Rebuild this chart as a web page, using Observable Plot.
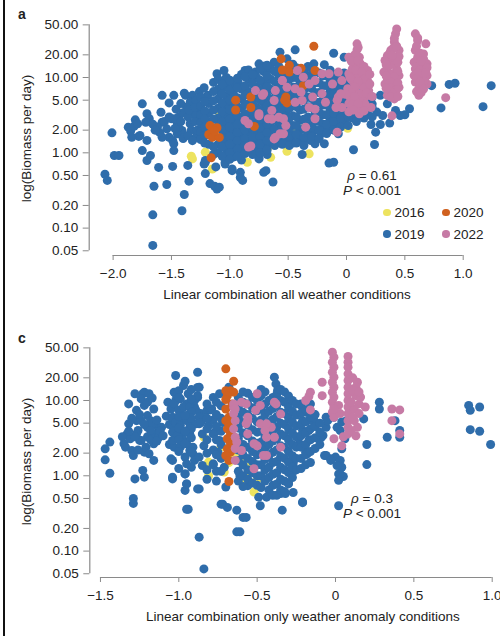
<!DOCTYPE html>
<html><head><meta charset="utf-8">
<script src="https://cdn.jsdelivr.net/npm/d3@7"></script>
<script src="https://cdn.jsdelivr.net/npm/@observablehq/plot@0.6"></script>
<style>
body{margin:0;background:#fff;font-family:"Liberation Sans",Arial,sans-serif;color:#222;}
#wrap{position:relative;width:500px;height:636px;overflow:hidden;background:#fff;}
.panel{position:absolute;left:0;width:500px;height:318px;}
.edge{position:absolute;left:3.3px;top:0;width:1.3px;height:636px;background:#111;}
.lab{position:absolute;font-weight:bold;font-size:14px;line-height:15px;}
.t{position:absolute;font-size:13.5px;line-height:15px;white-space:nowrap;text-align:center;}
.yt{position:absolute;font-size:13.5px;line-height:15px;width:200px;text-align:center;transform:rotate(-90deg);white-space:nowrap;}
.leg{position:absolute;font-size:13.5px;line-height:15px;white-space:nowrap;}
.leg i{display:inline-block;width:7.5px;height:7.5px;border-radius:50%;margin-right:4px;vertical-align:1px;}
</style></head>
<body><div id="wrap"><div class="edge"></div></div>
<script>
const years = ["2016","2019","2020","2022"];
const colors = ["#ede35f","#2f6dab","#d0611f","#c67aa5"];
const xTicksA = [-2,-1.5,-1,-0.5,0,0.5,1];
const xTicksC = [-1.5,-1,-0.5,0,0.5,1];
const yTicks = [0.05,0.1,0.2,0.5,1,2,5,10,20,50];

// Panel a : [linear combination, biomass per day]
const a2016 = [[-1.33,0.9],[-1.32,0.83],[-1.21,1.02],[-1.15,0.61],[-1.09,3.3],[-0.91,1.98],[-0.85,0.75],[-0.74,1.46],[-0.67,1.19],[-0.65,0.87],[-0.51,1.05],[-0.47,1.98],[-0.41,1.53],[-0.32,0.97],[-0.5,2.3],[-0.37,2.1],[0.01,2.12],[-0.9,1.6]];
const a2019 = [
[-2.07,0.52],[-2.05,0.43],[-2.01,1.84],[-1.99,0.92],[-1.95,0.92],
[-1.87,2.19],[-1.85,1.95],[-1.82,2.25],[-1.84,1.61],[-1.81,2.74],[-1.79,2.43],[-1.78,1.65],
[-1.75,4.47],[-1.71,3.3],[-1.69,2.83],[-1.72,2.55],[-1.71,1.46],[-1.75,1.07],[-1.77,1.7],
[-1.68,0.92],[-1.71,0.79],[-1.61,0.64],[-1.65,0.36],[-1.66,0.15],[-1.66,0.059],
[-1.58,5.8],[-1.48,5.8],[-1.59,3.46],[-1.58,2.55],[-1.54,2.08],[-1.5,2.83],[-1.44,2.97],[-1.45,2.43],[-1.41,1.98],
[-1.52,1.61],[-1.49,1.46],[-1.48,1.32],[-1.58,1.61],[-1.48,1.07],[-1.45,1.79],[-1.44,2.19],[-1.47,2.83],
[-1.38,5.8],[-1.32,5.8],[-1.34,4.7],[-1.29,4.95],[-1.27,3.65],[-1.28,2.69],[-1.24,2.43],[-1.21,1.98],
[-1.39,6.2],[-1.37,4.04],[-1.31,3.3],[-1.34,2.43],[-1.29,1.61],[-1.19,5.8],
[-1.36,0.68],[-1.35,0.42],[-1.39,0.28],[-1.41,0.17],[-1.49,0.66],[-1.54,0.38],
[-1.21,0.53],[-1.17,0.39],[-1.11,0.33],[-1.13,0.36],[-1.21,0.75],[-1.22,0.71],[-1.21,0.79],[-1.12,0.65],
[-1.14,8.6],[-1.11,11.2],[-1.05,12.4],[-1.04,8.6],[-1.08,6.4],
[-1.04,0.71],[-0.98,0.58],[-0.91,0.55],[-0.89,0.43],[-0.97,0.88],
[-0.93,8.8],[-0.87,12.4],[-0.84,12.6],[-0.78,11.8],[-0.75,15.2],[-0.7,14.2],
[-0.71,0.55],[-0.63,0.41],[-0.68,0.95],[-0.75,0.86],[-0.75,0.83],[-0.69,0.58],[-0.98,0.61],[-0.91,0.47],[-1.04,0.75],[-1.09,0.35],
[-0.57,21.7],[-0.44,23.3],[-0.51,17.7],[-0.62,16],
[-0.38,0.95],[-0.28,15.2],[-0.19,14.8],[-0.11,21],[-0.02,18.6],
[-0.15,0.73],[-0.11,0.75],[0.06,1.1],[0.24,1.29],[0.25,1.88],
[0.21,2.38],[0.29,2.38],[0.37,2.48],[0.31,3.13],[0.26,3.47],[0.22,4.47],[0.29,5.8],[0.36,6.1],[0.35,4.47],[0.42,3.65],[0.46,3.13],[0.54,3.85],[0.5,3.2],[0.73,7.8],[0.81,3.95],[0.88,8.1],[0.93,8.4],[1.17,4.1],[1.24,7.8],
[-0.48,1.53],[-0.37,1.46],[-0.27,1.32],[-0.29,1.61],[-0.19,1.98],[-0.07,1.79],[-0.31,1.46],[-0.22,1.79],[-0.05,2.3],[-0.19,1.32],
[-1.62,2.2],[-1.56,2.6],[-1.52,3.0],[-1.47,2.1],[-1.42,2.6],[-1.4,3.4],[-1.36,3.0],[-1.33,2.0],[-1.3,2.6],[-1.4,1.55],[-1.36,1.7],[-1.32,1.45],[-1.28,2.0],[-1.6,1.85],[-1.66,2.4],[-1.64,2.0],[-1.35,3.7],[-1.42,4.5],[-1.3,4.0],[-1.46,3.8],[-1.52,4.6],[-1.26,6.5],[-1.22,7.3],
// dense core
[-1.25,5.5],[-1.25,4.2],[-1.25,3.2],[-1.25,2.5],[-1.25,1.9],[-1.25,1.5],
[-1.18,4.5],[-1.18,3.4],[-1.18,2.6],[-1.18,1.3],
[-1.1,9.5],[-1.1,7.0],[-1.1,5.2],[-1.1,3.9],[-1.1,2.9],[-1.1,2.3],[-1.1,1.3],[-1.1,1.0],
[-1.03,10],[-1.03,7.5],[-1.03,5.6],[-1.03,4.2],[-1.03,3.1],[-1.03,2.4],[-1.03,1.8],[-1.03,1.4],[-1.03,1.1],[-1.03,0.9],
[-0.97,8.5],[-0.97,6.2],[-0.97,4.6],[-0.97,3.4],[-0.97,2.6],[-0.97,2.0],[-0.97,1.55],[-0.97,1.2],[-0.97,0.95],
[-0.9,11],[-0.9,7.0],[-0.9,5.2],[-0.9,3.9],[-0.9,2.9],[-0.9,2.2],[-0.9,1.7],[-0.9,1.3],[-0.9,1.05],[-0.9,0.8],
[-0.84,9.5],[-0.84,6.5],[-0.84,4.4],[-0.84,3.3],[-0.84,2.5],[-0.84,1.9],[-0.84,1.45],[-0.84,1.15],
[-0.77,10],[-0.77,7.5],[-0.77,5.5],[-0.77,4.0],[-0.77,3.0],[-0.77,2.3],[-0.77,1.75],[-0.77,1.35],[-0.77,1.05],
[-0.71,12],[-0.71,8.5],[-0.71,6.2],[-0.71,4.6],[-0.71,3.4],[-0.71,2.6],[-0.71,2.0],[-0.71,1.55],[-0.71,1.2],
[-0.65,13],[-0.65,9.5],[-0.65,7.0],[-0.65,5.2],[-0.65,3.9],[-0.65,2.9],[-0.65,2.2],[-0.65,1.7],[-0.65,1.35],
[-0.58,14],[-0.58,10.5],[-0.58,7.8],[-0.58,5.8],[-0.58,4.3],[-0.58,3.2],[-0.58,2.4],[-0.58,1.85],[-0.58,1.45],
[-0.52,11.5],[-0.52,8.5],[-0.52,6.3],[-0.52,4.7],[-0.52,3.5],[-0.52,2.6],[-0.52,2.0],[-0.52,1.55],
[-0.46,15],[-0.46,10],[-0.46,7.5],[-0.46,5.6],[-0.46,4.2],[-0.46,3.1],[-0.46,2.3],[-0.46,1.75],[-0.46,1.35],
[-0.4,12],[-0.4,9.0],[-0.4,6.6],[-0.4,4.9],[-0.4,3.7],[-0.4,2.7],[-0.4,2.0],[-0.4,1.55],
[-0.33,14],[-0.33,10.5],[-0.33,7.5],[-0.33,5.5],[-0.33,4.1],[-0.33,3.0],[-0.33,2.3],[-0.33,1.75],
[-0.27,12],[-0.27,8.5],[-0.27,6.3],[-0.27,4.7],[-0.27,3.5],[-0.27,2.6],[-0.27,2.0],
[-0.2,10.5],[-0.2,7.8],[-0.2,5.8],[-0.2,4.3],[-0.2,3.2],[-0.2,2.4],
[-0.14,12.5],[-0.14,9.0],[-0.14,6.6],[-0.14,5.0],[-0.14,3.7],[-0.14,2.8],[-0.14,2.1],
[-0.08,10],[-0.08,7.5],[-0.08,5.5],[-0.08,4.1],[-0.08,3.1],[-0.08,2.4],
[-0.02,11.5],[-0.02,8.5],[-0.02,6.2],[-0.02,4.6],[-0.02,3.4],[-0.02,2.6],
[0.05,9.5],[0.05,7.0],[0.05,5.2],[0.05,3.9],[0.05,2.9],
[0.12,8.0],[0.12,5.8],[0.12,4.3],[0.12,3.1],
[0.18,6.5],[0.18,4.8],[0.18,3.5],
[-1.215,4.8],[-1.215,3.6],[-1.215,2.8],[-1.215,2.2],[-1.215,1.7],[-1.215,1.35],
[-1.14,6.5],[-1.14,4.9],[-1.14,3.7],[-1.14,2.8],[-1.14,1.2],[-1.14,0.95],
[-1.065,8.2],[-1.065,6.1],[-1.065,4.6],[-1.065,3.5],[-1.065,2.6],[-1.065,2.0],[-1.065,1.55],[-1.065,1.2],[-1.065,0.9],
[-1.0,9.2],[-1.0,6.8],[-1.0,5.0],[-1.0,3.7],[-1.0,2.8],[-1.0,2.2],[-1.0,1.65],[-1.0,1.3],[-1.0,1.0],[-1.0,0.82],
[-0.935,9.8],[-0.935,7.3],[-0.935,5.4],[-0.935,4.1],[-0.935,3.1],[-0.935,2.4],[-0.935,1.85],[-0.935,1.45],[-0.935,1.12],[-0.935,0.9],
[-0.87,10.2],[-0.87,7.8],[-0.87,5.8],[-0.87,4.4],[-0.87,3.3],[-0.87,2.6],[-0.87,2.0],[-0.87,1.55],[-0.87,1.25],[-0.87,0.98],
[-0.805,11],[-0.805,8.2],[-0.805,6.0],[-0.805,4.6],[-0.805,3.5],[-0.805,2.7],[-0.805,2.1],[-0.805,1.6],[-0.805,1.25],[-0.805,0.95],
[-0.74,13],[-0.74,9.2],[-0.74,6.8],[-0.74,5.0],[-0.74,3.7],[-0.74,2.8],[-0.74,2.15],[-0.74,1.65],[-0.74,1.3],[-0.74,1.0],
[-0.68,14.5],[-0.68,10.5],[-0.68,7.6],[-0.68,5.6],[-0.68,4.2],[-0.68,3.1],[-0.68,2.4],[-0.68,1.85],[-0.68,1.45],[-0.68,1.1],
[-0.615,12],[-0.615,8.8],[-0.615,6.5],[-0.615,4.8],[-0.615,3.6],[-0.615,2.7],[-0.615,2.05],[-0.615,1.6],[-0.615,1.25],
[-0.55,12.5],[-0.55,9.3],[-0.55,6.9],[-0.55,5.1],[-0.55,3.8],[-0.55,2.9],[-0.55,2.2],[-0.55,1.7],[-0.55,1.3],
[-0.49,12.8],[-0.49,9.5],[-0.49,7.0],[-0.49,5.2],[-0.49,3.9],[-0.49,2.9],[-0.49,2.2],[-0.49,1.65],[-0.49,1.25],
[-0.43,13.5],[-0.43,10],[-0.43,7.4],[-0.43,5.5],[-0.43,4.1],[-0.43,3.0],[-0.43,2.3],[-0.43,1.75],[-0.43,1.35],
[-0.365,12.5],[-0.365,9.2],[-0.365,6.8],[-0.365,5.1],[-0.365,3.8],[-0.365,2.8],[-0.365,2.1],[-0.365,1.6],[-0.365,1.25],
[-0.3,13],[-0.3,9.8],[-0.3,7.2],[-0.3,5.3],[-0.3,4.0],[-0.3,2.9],[-0.3,2.2],[-0.3,1.65],
[-0.235,11.5],[-0.235,8.5],[-0.235,6.3],[-0.235,4.7],[-0.235,3.5],[-0.235,2.6],[-0.235,2.0],[-0.235,1.55],
[-0.17,10.5],[-0.17,7.8],[-0.17,5.8],[-0.17,4.3],[-0.17,3.2],[-0.17,2.4],[-0.17,1.8],
[-0.11,11],[-0.11,8.2],[-0.11,6.1],[-0.11,4.5],[-0.11,3.4],[-0.11,2.6],[-0.11,2.0],
[-0.05,9.5],[-0.05,7.0],[-0.05,5.2],[-0.05,3.9],[-0.05,2.9],[-0.05,2.2],
[0.015,10],[0.015,7.5],[0.015,5.5],[0.015,4.1],[0.015,3.0],[0.015,2.3],
[0.085,8.5],[0.085,6.3],[0.085,4.6],[0.085,3.4],[0.085,2.6],
[0.15,7.2],[0.15,5.3],[0.15,3.9],[0.15,2.9],
[0.22,5.5],[0.22,4.0],[0.22,3.0]
];
const a2020 = [[-1.17,2.3],[-1.15,2.15],[-1.11,2.15],[-1.18,1.75],[-1.15,1.6],[-1.09,1.6],[-1.13,1.95],[-1.16,0.86],[-0.95,5.0],[-0.95,3.7],[-0.82,5.5],[-0.82,4.0],[-0.79,2.24],[-0.52,5.5],[-0.51,4.6],[-0.53,5.0],[-0.37,7.8],[-0.56,17.7],[-0.49,14.5],[-0.55,12.6],[-0.49,11.8],[-0.39,13.3],[-0.27,12.4],[-0.28,26]];
const a2022 = [
[0.09,28],[0.09,23.3],[0.02,18.6],[0.11,18.6],[0.06,15.2],[0.12,15.2],[0.18,12.4],[0.02,11.2],[0.09,10.6],[0.18,9.1],[0.06,8.7],[0.13,7.8],[0.19,6.7],[0.01,7.1],[0.08,6.4],[0.03,5.5],[0.12,5.2],[0.02,4.5],[0.09,4.0],[0.02,3.5],[0.11,3.3],[0.21,4.0],[0.12,3.85],[-0.07,11.8],[-0.07,5.5],[-0.08,5.0],[-0.04,4.0],
[0.05,13],[0.15,10.5],[0.04,9.5],[0.15,6],[0.06,4.9],[0.16,5.5],[0.05,3.9],[0.14,13.5],[0.07,20],[0.17,8],
[0.04,16.5],[0.1,16.8],[0.15,14],[0.08,12.5],[0.13,11.8],[0.16,9.7],[0.03,10],[0.1,8.8],[0.07,7.5],[0.15,7.3],[0.04,6.3],[0.11,6.0],[0.17,6.2],[0.07,5.6],[0.14,4.8],[0.05,4.4],[0.16,4.4],[0.1,4.5],[0.06,3.7],[0.15,3.6],[-0.01,6.0],[0.2,11],[0.2,8.2],[0.22,5.6],[0.1,25],
[0.43,44],[0.42,38],[0.41,29.5],[0.38,23],[0.45,23],[0.35,19.5],[0.42,18.6],[0.33,16.8],[0.41,15.2],[0.35,13.7],[0.43,13],[0.32,11.8],[0.39,11.2],[0.45,10.6],[0.35,9.6],[0.42,9.1],[0.33,8.2],[0.39,7.8],[0.45,7.4],[0.36,6.7],[0.42,6.1],[0.35,5.8],[0.41,5.2],[0.39,3.1],
[0.37,21],[0.4,17],[0.44,16],[0.37,14.5],[0.44,12],[0.36,11],[0.41,10.2],[0.38,8.7],[0.44,8.5],[0.37,7.3],[0.43,6.9],[0.39,6.3],[0.38,5.5],[0.44,5.6],[0.34,7.2],[0.34,10.5],[0.34,14.8],[0.45,19],[0.4,24.5],[0.43,26],[0.41,33],[0.39,19.8],
[0.59,38],[0.61,31],[0.68,28],[0.59,23],[0.61,18.6],[0.66,17.7],[0.58,16],[0.65,15.2],[0.69,15.2],[0.59,13],[0.66,12.4],[0.58,10.6],[0.63,10.1],[0.69,10.6],[0.59,8.7],[0.66,8.2],[0.62,7.1],[0.69,8.2],[0.62,5.8],[0.85,5.4],
[0.6,26],[0.63,21],[0.66,20.5],[0.6,14],[0.63,12.7],[0.61,11.5],[0.67,9.2],[0.6,9.6],[0.63,8.8],[0.66,7.0],[0.6,6.5],[0.64,6.3],[0.61,33.5],[0.69,13.5],[0.68,11.6],[0.64,16.5],
[-0.78,6.7],[-0.72,5.8],[-0.61,6.7],[-0.62,4.95],[-0.55,9.1],[-0.51,7.4],[-0.44,7.1],[-0.39,6.4],[-0.42,12.4],[-0.37,10.1],[-0.32,8.2],[-0.27,9.1],[-0.21,11.2],[-0.15,11.2],[-0.12,8.2],[-0.05,6.1],[-0.04,9.1],[-0.21,6.1],[-0.29,5.5],[-0.38,4.95],[-0.44,4.7],[-0.32,4.0],[-0.27,3.8],[-0.18,4.7],[-0.09,4.0],
[-0.64,3.65],[-0.58,2.97],[-0.67,2.83],[-0.84,2.43],[-0.87,2.69],[-0.75,3.3],[-0.54,2.83],[-0.52,2.3],[-0.57,1.79],[-0.62,1.53],[-0.84,1.19],[-0.35,2.19],[-0.27,2.83],[-0.08,1.88],
[-0.71,6.1],[-0.75,3.1],[-0.82,1.23],[-0.64,2.8],[-0.61,1.6],[-0.54,1.79],[-0.55,9.1]
];

// Panel c : [anomaly linear combination, biomass per day]
const c2016 = [[-0.84,3.26],[-0.81,1.52],[-0.81,1.0],[-0.73,2.4],[-0.71,1.12],[-0.6,1.77],[-0.59,0.87],[-0.52,0.61],[-0.5,0.89],[-0.55,1.3],[-0.65,1.96],[-0.68,1.5],[-0.57,0.95]];
const c2019 = [
[-1.47,2.28],[-1.47,1.63],[-1.44,1.08],[-1.44,2.8],[-1.35,2.66],[-1.32,9.0],[-1.32,4.9],[-1.33,3.6],[-1.34,2.4],[-1.31,3.1],[-1.3,2.17],[-1.29,1.86],[-1.28,12.3],[-1.28,0.91],[-1.29,0.5],[-1.29,0.43],[-1.27,7.4],[-1.27,5.4],[-1.26,4.0],[-1.25,2.95],[-1.23,12.3],[-1.22,8.6],[-1.22,12.9],[-1.2,6.3],[-1.2,4.4],[-1.2,3.3],[-1.22,2.06],[-1.23,1.18],[-1.22,0.96],[-1.19,12.3],[-1.18,5.4],[-1.16,7.7],[-1.16,2.66],[-1.17,3.6],[-1.16,1.6],[-1.14,4.6],[-1.11,4.4],[-1.17,4.9],[-1.24,5.4],
[-1.24,2.94],[-1.27,3.6],[-1.21,2.4],[-1.18,3.0],[-1.15,3.6],[-1.13,3.2],[-1.19,1.96],
[-1.3,5.8],[-1.25,6.5],[-1.22,4.8],[-1.18,4.0],[-1.14,5.5],[-1.12,3.9],[-1.28,3.3],[-1.32,3.9],[-1.36,3.3],[-1.24,10.5],[-1.2,9.5],[-1.17,10.8],[-1.26,2.2],[-1.14,2.9],[-1.1,3.4],[-1.06,4.8],[-1.08,6.2],[-1.07,9.5],[-1.06,2.6],
[-1.04,0.91],[-1.04,1.6],[-1.02,21.5],[-1.03,12.9],[-1.02,10],[-1.05,7.7],[-1.04,5.7],[-1.03,4.2],[-1.02,3.3],[-1.03,2.4],[-0.99,7.4],[-0.98,5.4],[-0.99,4.0],[-0.97,2.95],[-0.96,1.06],[-0.96,0.64],[-0.95,0.78],[-0.94,0.36],[-0.95,9.0],[-0.94,12.3],[-0.93,6.7],[-0.91,4.9],[-0.93,3.6],[-0.91,2.4],[-0.91,1.96],[-0.9,1.6],[-0.9,8.2],[-0.88,23.7],[-0.87,15],[-0.88,11.0],[-0.87,4.9],[-0.87,0.67],[-0.87,0.153],[-0.84,0.058],[-0.86,6.7],[-0.85,3.6],[-0.84,2.5],[-0.87,1.77],[-0.85,1.37],[-0.82,7.4],[-0.8,7.5],
[-0.97,15.8],[-0.88,14.9],[-1.02,12.3],[-0.99,10.5],[-1.03,9.0],[-1.0,7.4],[-0.97,8.2],[-0.93,8.2],[-0.9,10],[-0.88,11.6],[-0.89,7.4],[-0.87,6.0],[-1.04,6.0],[-1.02,5.1],[-0.99,4.65],[-0.95,5.4],[-0.93,4.4],[-0.89,4.9],[-0.86,5.1],[-1.04,3.8],[-1.01,3.4],[-0.98,3.25],[-0.95,2.66],[-0.93,2.17],[-0.96,1.77],[-0.99,2.4],[-1.04,2.94],[-0.95,1.44],[-1.05,1.68],[-1.04,0.96],[-0.96,1.06],[-0.95,0.78],[-0.88,0.67],[-0.95,0.36],
[-1.0,13.5],[-1.0,11],[-1.0,6.2],[-1.0,4.3],[-1.0,3.0],[-1.0,2.1],[-1.0,1.25],
[-0.92,14],[-0.92,10.5],[-0.92,7.0],[-0.92,5.8],[-0.92,4.2],[-0.92,3.2],[-0.92,2.1],[-0.92,1.3],
[-0.96,18],[-0.96,6.3],[-0.96,3.9],[-0.96,2.7],
[-0.74,12.3],[-0.72,5.1],[-0.74,2.94],[-0.75,2.06],[-0.69,4.9],[-0.68,15],[-0.71,1.3],[-0.7,0.71],[-0.72,0.42],[-0.69,0.38],[-0.63,0.35],[-0.59,0.28],[-0.63,0.18],[-0.79,7.7],[-0.77,3.8],[-0.81,4.65],
[-0.78,1.44],[-0.73,0.42],[-0.61,1.0],[-0.56,0.74],[-0.48,0.4],[-0.44,0.52],[-0.34,0.35],[-0.35,0.58],[-0.32,0.58],[-0.27,0.6],[-0.21,0.45],[-0.39,20.4],[-0.38,16.6],[-0.37,13.6],[-0.22,8.6],[-0.21,5.4],[-0.16,9.0],[-0.14,5.7],[-0.17,4.0],[-0.18,1.96],[-0.27,1.44],[-0.26,1.18],[-0.3,0.78],[-0.09,3.25],[-0.06,6.0],[-0.06,4.4],[-0.06,1.86],[-0.03,1.68],[0.02,0.4],[0.0,1.77],[0.03,1.6],[0.04,1.3],[0.02,1.06],[0.05,0.98],[0.04,2.28],[0.03,4.0],[0.07,5.4],[0.06,3.1],[0.2,2.6],[0.2,1.41],[0.18,5.7],[0.28,9.5],[0.28,7.7],[0.33,3.25],[0.38,5.4],[0.41,4.0],[0.41,3.25],[0.85,8.6],[0.86,7.4],[0.92,8.2],[0.86,4.1],[0.92,3.9],[0.99,2.6],[-0.01,6.0],[0.01,4.4],
[-0.22,9.0],[-0.19,7.0],[-0.15,5.4],[-0.21,4.0],[-0.17,2.95],[-0.19,2.06],[-0.23,2.66],[-0.27,1.6],[-0.08,3.43],[-0.07,1.86],[-0.03,1.6],[0.01,1.37],[0.03,1.06],[0.02,0.87],[-0.05,5.4],[-0.1,3.26],[0.04,5.2],
[-0.21,0.44],[-0.49,0.52],[-0.57,0.28],[-0.61,0.18],
// dense core
[-0.78,11],[-0.78,5.5],[-0.78,3.6],[-0.78,2.2],[-0.78,1.4],
[-0.73,8.5],[-0.73,5.8],[-0.73,3.9],[-0.73,2.6],[-0.73,1.7],[-0.73,1.15],
[-0.82,9],[-0.82,5.8],[-0.82,4.2],[-0.82,3.0],[-0.82,2.0],[-0.82,1.2],[-0.82,0.9],
[-0.76,9.5],[-0.76,6.5],[-0.76,4.5],[-0.76,3.0],[-0.76,1.9],[-0.76,1.15],[-0.76,0.85],
[-0.62,11],[-0.62,8],[-0.62,6],[-0.62,4.3],[-0.62,3.1],[-0.62,2.2],[-0.62,1.6],[-0.62,1.15],[-0.62,0.85],
[-0.59,13],[-0.59,9.5],[-0.59,7],[-0.59,5.1],[-0.59,3.7],[-0.59,2.6],[-0.59,1.9],[-0.59,1.4],[-0.59,1.0],[-0.59,0.72],
[-0.56,12.5],[-0.56,9],[-0.56,6.5],[-0.56,4.7],[-0.56,3.4],[-0.56,2.4],[-0.56,1.7],[-0.56,1.2],[-0.56,0.9],
[-0.53,11],[-0.53,8],[-0.53,5.8],[-0.53,4.1],[-0.53,2.9],[-0.53,2.1],[-0.53,1.55],[-0.53,1.1],[-0.53,0.8],
[-0.5,10],[-0.5,7.3],[-0.5,5.2],[-0.5,3.8],[-0.5,2.7],[-0.5,1.9],[-0.5,1.4],[-0.5,1.0],[-0.5,0.75],
[-0.475,14],[-0.475,11.5],[-0.475,7.7],[-0.475,5.5],[-0.475,3.9],[-0.475,2.8],[-0.475,2.0],[-0.475,1.4],[-0.475,1.0],[-0.475,0.7],
[-0.45,13],[-0.45,9],[-0.45,6.5],[-0.45,4.6],[-0.45,3.3],[-0.45,2.3],[-0.45,1.65],[-0.45,1.2],[-0.45,0.85],
[-0.425,10],[-0.425,7.2],[-0.425,5.2],[-0.425,3.7],[-0.425,2.6],[-0.425,1.85],[-0.425,1.3],[-0.425,0.95],[-0.425,0.65],
[-0.4,11],[-0.4,7.8],[-0.4,5.6],[-0.4,4.0],[-0.4,2.9],[-0.4,2.05],[-0.4,1.5],[-0.4,1.05],[-0.4,0.75],[-0.4,0.55],
[-0.375,12],[-0.375,8.6],[-0.375,6.1],[-0.375,4.4],[-0.375,3.1],[-0.375,2.2],[-0.375,1.55],[-0.375,1.1],[-0.375,0.78],[-0.375,0.55],
[-0.35,14],[-0.35,10],[-0.35,7],[-0.35,5],[-0.35,3.6],[-0.35,2.5],[-0.35,1.8],[-0.35,1.3],[-0.35,0.9],[-0.35,0.65],
[-0.325,13],[-0.325,9.5],[-0.325,6.7],[-0.325,4.8],[-0.325,3.4],[-0.325,2.4],[-0.325,1.7],[-0.325,1.2],[-0.325,0.85],[-0.325,0.62],
[-0.3,11.5],[-0.3,8.2],[-0.3,5.9],[-0.3,4.2],[-0.3,3.0],[-0.3,2.1],[-0.3,1.5],[-0.3,1.1],[-0.3,0.8],
[-0.275,10],[-0.275,7.2],[-0.275,5.2],[-0.275,3.7],[-0.275,2.6],[-0.275,1.85],[-0.275,1.3],[-0.275,0.95],
[-0.25,9],[-0.25,6.4],[-0.25,4.6],[-0.25,3.3],[-0.25,2.4],[-0.25,1.7],[-0.25,1.2],
[-0.22,6.8],[-0.22,4.8],[-0.22,3.4],[-0.22,2.4],[-0.22,1.7],[-0.22,1.25],
[-0.19,7.5],[-0.19,5.2],[-0.19,3.7],[-0.19,2.6],[-0.19,1.9],[-0.19,1.4],
[-0.16,6.0],[-0.16,4.2],[-0.16,3.0],[-0.16,2.1],[-0.16,1.5],
[-0.13,6.5],[-0.13,4.5],[-0.13,3.2],[-0.13,2.3],
[-0.1,5.0],[-0.1,3.8],[-0.1,2.6]
];
const c2020 = [[-0.7,26.3],[-0.65,18],[-0.7,13.5],[-0.67,13.5],[-0.65,12.9],[-0.69,11.6],[-0.66,9.0],[-0.7,7.7],[-0.68,6.0],[-0.7,5.4],[-0.69,4.2],[-0.67,3.6],[-0.69,3.1],[-0.67,2.66],[-0.69,2.28],[-0.67,2.06],[-0.7,1.86],[-0.68,1.6],[-0.68,0.84],[-0.68,4.8],[-0.7,10.3]];
const c2022 = [
[-0.02,43.8],[-0.01,37.6],[-0.02,32.3],[-0.01,27.7],[-0.02,23.8],[-0.01,20.4],[-0.02,17.5],[-0.01,15],[-0.02,12.9],[-0.01,11.1],[-0.02,9.5],[-0.01,8.2],[-0.02,7.0],[-0.01,6.0],
[-0.085,17.5],[-0.085,11.6],[-0.01,3.1],[0.04,2.5],[0.05,3.3],
[0.08,38.5],[0.08,32.3],[0.08,27.7],[0.08,22.6],[0.08,18.4],[0.08,15],[0.08,12.3],[0.08,10],[0.08,8.2],[0.08,6.7],[0.08,5.4],[0.08,4.4],[0.08,3.6],
[0.14,17.5],[0.13,15],[0.13,11.6],[0.15,9.0],[0.12,7.7],[0.15,6.7],[0.12,5.4],[0.14,4.4],[0.13,3.4],[0.19,8.2],[0.16,11.1],[0.11,13.5],[0.11,20],[0.15,13],[0.1,9.5],[0.11,6.0],[0.1,4.0],
[0.02,8.6],[0.03,6.7],[-0.01,7.7],[-0.17,11.3],[-0.16,12.9],[-0.19,10],[-0.16,7.5],[0.36,7.7],[0.41,7.5],[0.36,5.4],[0.41,3.6],
[-0.6,9.5],[-0.5,12.3],[-0.48,8.6],[-0.39,9.5],[-0.35,6.6],[-0.56,5.4],[-0.48,4.9],[-0.41,4.4],[-0.44,3.26],[-0.52,2.66],[-0.56,3.6],[-0.35,2.4],[-0.46,1.86],[-0.52,1.24],[-0.6,2.17],[-0.65,8.1],[-0.64,5.4],[-0.65,4.2],[-0.64,3.26],[-0.63,2.8],[-0.64,1.6],[-0.56,6.0],[-0.57,4.9],[-0.65,9.0],[-0.64,7.7],[-0.65,6.7],[-0.64,2.3],[-0.57,9.0],[-0.51,7.4],[-0.44,4.9],[-0.45,4.0],[-0.38,9.0],[-0.39,3.25],[-0.5,2.5],[-0.44,1.86]
];

function rows(lists){
  const out = [];
  lists.forEach((l,i)=>l.forEach(([x,y])=>out.push({x,y,year:years[i]})));
  return out;
}
const dataA = rows([a2016,a2019,a2020,a2022]);
const dataC = rows([c2016,c2019,c2020,c2022]);
const fmtX = d => d === 0 ? "0" : d3.format(".1f")(d);
const fmtY = d3.format(".2f");

function panel(data, cfg){
  return Plot.plot({
    width:500, height:318,
    marginLeft:cfg.ml, marginRight:cfg.mr, marginTop:cfg.mt, marginBottom:cfg.mb,
    x:{domain:cfg.xd},
    y:{type:"log", domain:cfg.yd},
    color:{domain:years, range:colors},
    style:{fontFamily:'"Liberation Sans",Arial,sans-serif', fontSize:"13.5px", color:"#222", background:"transparent"},
    marks:[
      Plot.ruleY([{y:cfg.yd[0], x1:cfg.xt[0], x2:cfg.xt[cfg.xt.length-1]}], {y:"y", x1:"x1", x2:"x2", stroke:"#8a8a8a", strokeWidth:1.2}),
      Plot.ruleX([{x:cfg.xd[0], y1:0.05, y2:50}], {x:"x", y1:"y1", y2:"y2", stroke:"#8a8a8a", strokeWidth:1.2}),
      Plot.axisX(cfg.xt, {tickFormat:fmtX, tickSize:5, tickPadding:8, stroke:"#8a8a8a", label:null}),
      Plot.axisY(yTicks, {tickFormat:() => "", tickSize:6, stroke:"#8a8a8a", label:null}),
      Plot.text(yTicks, {y:d => d, text:d => fmtY(d), frameAnchor:"left", textAnchor:"end", dx:-11, fill:"#222"}),
      Plot.dot(data, {x:"x", y:"y", fill:"year", r:4.5, stroke:null})
    ]
  });
}

const wrap = document.getElementById("wrap");
const pa = panel(dataA, {ml:88.7, mr:2.3, mt:18.4, mb:63, xd:[-2.205,1.3], yd:[0.0433,60], xt:xTicksA});
const pc = panel(dataC, {ml:89.3, mr:0, mt:23.4, mb:59, xd:[-1.568,1.053], yd:[0.0446,60], xt:xTicksC});
const da = document.createElement("div"); da.className="panel"; da.style.top="0px"; da.appendChild(pa);
const dc = document.createElement("div"); dc.className="panel"; dc.style.top="318px"; dc.appendChild(pc);
wrap.appendChild(da); wrap.appendChild(dc);

function add(html, cls, css){
  const e = document.createElement("div"); e.className = cls; e.innerHTML = html;
  Object.assign(e.style, css); wrap.appendChild(e); return e;
}
add("a","lab",{left:"18px",top:"7px"});
add("c","lab",{left:"18px",top:"331px"});
add("Linear combination all weather conditions","t",{left:"137px",width:"300px",top:"287px"});
add("Linear combination only weather anomaly conditions","t",{left:"146px",width:"300px",top:"609px"});
add("log(Biomass per day)","yt",{left:"-74px",top:"130.5px"});
add("log(Biomass per day)","yt",{left:"-74px",top:"454px"});
add("<i>ρ</i> = 0.61","t",{left:"332px",width:"80px",top:"168px"});
add("<i>P</i> &lt; 0.001","t",{left:"332px",width:"80px",top:"183px"});
add("<i>ρ</i> = 0.3","t",{left:"332px",width:"80px",top:"491px"});
add("<i>P</i> &lt; 0.001","t",{left:"332px",width:"80px",top:"506px"});
const legPos = [[383,205],[383,226.5],[442,205],[442,226.5]];
years.forEach((yr,i)=>{
  add(`<i style="background:${colors[i]}"></i>${yr}`,"leg",{left:legPos[i][0]+"px",top:legPos[i][1]+"px"});
});
</script>
</body></html>
